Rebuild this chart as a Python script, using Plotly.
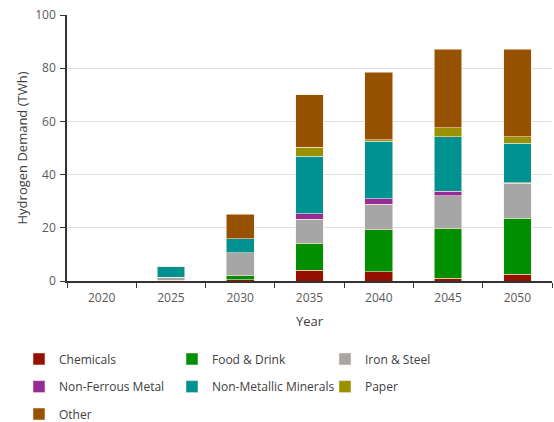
import plotly.graph_objects as go

years = ["2020", "2025", "2030", "2035", "2040", "2045", "2050"]
chemicals = [0, 0.3, 0.4, 4.0, 3.4, 1.1, 2.6]
food_drink = [0, 0, 1.5, 10.2, 15.8, 18.6, 21.0]
iron_steel = [0, 1.1, 8.8, 9.1, 9.7, 12.3, 13.2]
non_ferrous = [0, 0, 0, 2.0, 2.1, 1.8, 0.2]
non_metallic = [0, 4.0, 5.1, 21.6, 21.6, 20.5, 14.7]
paper = [0, 0, 0, 3.3, 0.5, 3.4, 2.6]
other = [0, 0, 9.3, 19.8, 25.4, 29.5, 32.9]

series = [
    ("Chemicals", chemicals, "#961000", "legend"),
    ("Food & Drink", food_drink, "#008F00", "legend"),
    ("Iron & Steel", iron_steel, "#A6A6A6", "legend"),
    ("Non-Ferrous Metal", non_ferrous, "#962A96", "legend2"),
    ("Non-Metallic Minerals", non_metallic, "#009191", "legend2"),
    ("Paper", paper, "#999100", "legend2"),
    ("Other", other, "#965200", "legend3"),
]

fig = go.Figure()
for name, vals, color, lg in series:
    fig.add_trace(go.Bar(
        x=years, y=vals, name=name, legend=lg,
        marker=dict(color=color, line=dict(color="rgba(255,235,220,0.7)", width=0.8)),
    ))

legend_common = dict(orientation="h", x=-0.099, xanchor="left", yanchor="middle",
                     font=dict(family="Open Sans", size=12, color="#404040"),
                     entrywidth=108, entrywidthmode="pixels",
                     itemwidth=30, traceorder="normal", bgcolor="rgba(0,0,0,0)")

fig.update_layout(
    width=554, height=422,
    margin=dict(l=67, r=2, t=15, b=141, autoexpand=False),
    barmode="stack", bargap=0.6,
    plot_bgcolor="white", paper_bgcolor="white",
    font=dict(family="Open Sans", size=12, color="#404040"),
    showlegend=True,
    legend=dict(legend_common, y=-0.293),
    legend2=dict(legend_common, y=-0.397),
    legend3=dict(legend_common, y=-0.5),
    xaxis=dict(
        title=dict(text="Year", font=dict(size=13, color="#404040"), standoff=12),
        type="category", tickson="boundaries", ticks="outside", ticklen=5,
        ticklabelstandoff=5,
        tickcolor="#333333", showline=True, linecolor="#333333", linewidth=1.5,
        tickfont=dict(size=12, color="#595959"),
    ),
    yaxis=dict(
        title=dict(text="Hydrogen Demand (TWh)", font=dict(size=13, color="#404040"), standoff=5),
        range=[0, 100], dtick=20, ticks="outside", ticklen=5,
        ticklabelstandoff=2,
        tickcolor="#333333", showline=True, linecolor="#333333", linewidth=1.5,
        showgrid=True, gridcolor="#E0E0E0", gridwidth=1, zeroline=False,
        tickfont=dict(size=12, color="#595959"),
    ),
)

fig.write_html("out.html")
